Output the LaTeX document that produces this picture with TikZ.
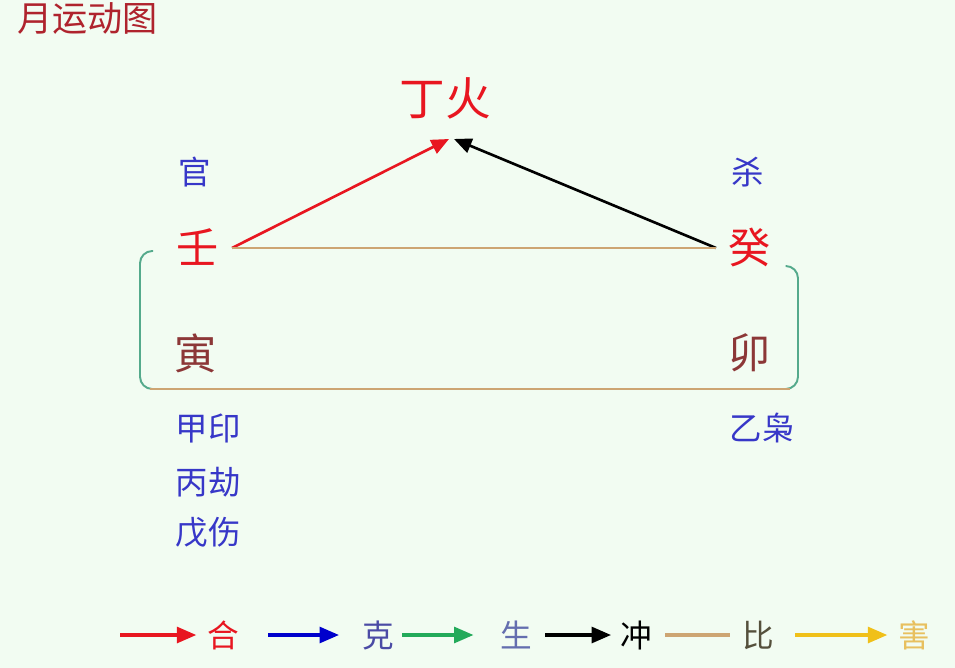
\documentclass[tikz,border=0pt]{standalone}
\usepackage{fontspec}
\setmainfont{Noto Sans CJK SC}
\usepackage{xcolor}
\definecolor{bgmint}{RGB}{242, 252, 242}
\definecolor{firered}{RGB}{232, 22, 32}
\definecolor{titlered}{RGB}{175, 35, 45}
\definecolor{labelblue}{RGB}{55, 55, 200}
\definecolor{branchbrown}{RGB}{140, 55, 55}
\definecolor{tanline}{RGB}{205, 165, 115}
\definecolor{bracketgreen}{RGB}{85, 170, 140}
\definecolor{shenggreen}{RGB}{35, 170, 90}
\definecolor{haiyellow}{RGB}{240, 192, 25}
\usetikzlibrary{arrows.meta, positioning, calc}

\begin{document}
\begin{tikzpicture}[
    x=0.02cm, y=-0.02cm,
    stem/.style={inner sep=1pt, font=\fontsize{24}{24}\selectfont},
    shishen/.style={inner sep=1pt, text=labelblue, font=\fontsize{18.5}{18.5}\selectfont},
    legend/.style={inner sep=1pt, font=\fontsize{18}{18}\selectfont},
    arrow/.style={-{Triangle[length=10pt, width=8.5pt]}, line width=1.5pt},
    keyarrow/.style={-{Triangle[length=11pt, width=9pt]}, line width=1.8pt},
    biline/.style={tanline, line width=1.5pt},
    bracket/.style={bracketgreen, line width=1.1pt, rounded corners=7pt}
]
    \fill[bgmint] (0,0) rectangle (955,668);
    \useasboundingbox (0,0) rectangle (955,668);

    \node[anchor=west, inner sep=0pt, text=titlered, font=\fontsize{20}{20}\selectfont] (title) at (17,19) {月运动图};

    % stems and branches
    \node[stem, text=firered, font=\fontsize{26}{26}\selectfont] (ding) at (445,98) {丁火};
    \node[stem, text=firered] (ren) at (198,247) {壬};
    \node[stem, text=firered] (gui) at (750,247) {癸};
    \node[stem, text=branchbrown] (yin) at (196,353) {寅};
    \node[stem, text=branchbrown] (mao) at (750,353) {卯};

    \node[shishen] (guan) at (195,172) {官};
    \node[shishen] (sha) at (748,172) {杀};
    \node[shishen] (jia) at (208,428) {甲印};
    \node[shishen] (bing) at (208,482) {丙劫};
    \node[shishen] (wu) at (208,532) {戊伤};
    \node[shishen] (yi) at (762,428) {乙枭};

    \coordinate (hitL) at (449,139);
    \coordinate (hitR) at (454,139);
    \coordinate (renR) at (232,248);
    \coordinate (guiL) at (716,248);

    \draw[arrow, firered] (renR) -- (hitL);
    \draw[arrow, black] (guiL) -- (hitR);
    \draw[biline] (renR) -- (guiL);

    % bracket round the branches
    \draw[bracket] (153,251) -- (140,251) -- (140,389) -- (160,389);
    \draw[bracket] (786,266) -- (798,266) -- (798,389) -- (778,389);
    \draw[biline] (150,389) -- (790,389);

    % legend
    \node[legend, text=firered] (he) at (223,635) {合};
    \node[legend, text={rgb,255:red,75;green,75;blue,165}] (ke) at (378,635) {克};
    \node[legend, text={rgb,255:red,100;green,110;blue,175}] (sheng) at (516,635) {生};
    \node[legend, text=black] (chong) at (636,635) {冲};
    \node[legend, text={rgb,255:red,85;green,80;blue,60}] (bi) at (758,635) {比};
    \node[legend, text={rgb,255:red,232;green,192;blue,95}] (hai) at (914,635) {害};

    \coordinate (heS) at (120,635);
    \coordinate (keS) at (268,635);
    \coordinate (shengS) at (402,635);
    \coordinate (chongS) at (545,635);
    \coordinate (biS) at (665,635);
    \coordinate (haiS) at (795,635);

    \draw[keyarrow, firered, shorten >=5pt] (heS) -- (he.west);
    \draw[keyarrow, blue!80!black, shorten >=12pt] (keS) -- (ke.west);
    \draw[keyarrow, shenggreen, shorten >=14pt] (shengS) -- (sheng.west);
    \draw[keyarrow, black, shorten >=4pt] (chongS) -- (chong.west);
    \draw[biline, line width=1.8pt, shorten >=6pt] (biS) -- (bi.west);
    \draw[keyarrow, haiyellow, shorten >=5pt] (haiS) -- (hai.west);
\end{tikzpicture}
\end{document}
